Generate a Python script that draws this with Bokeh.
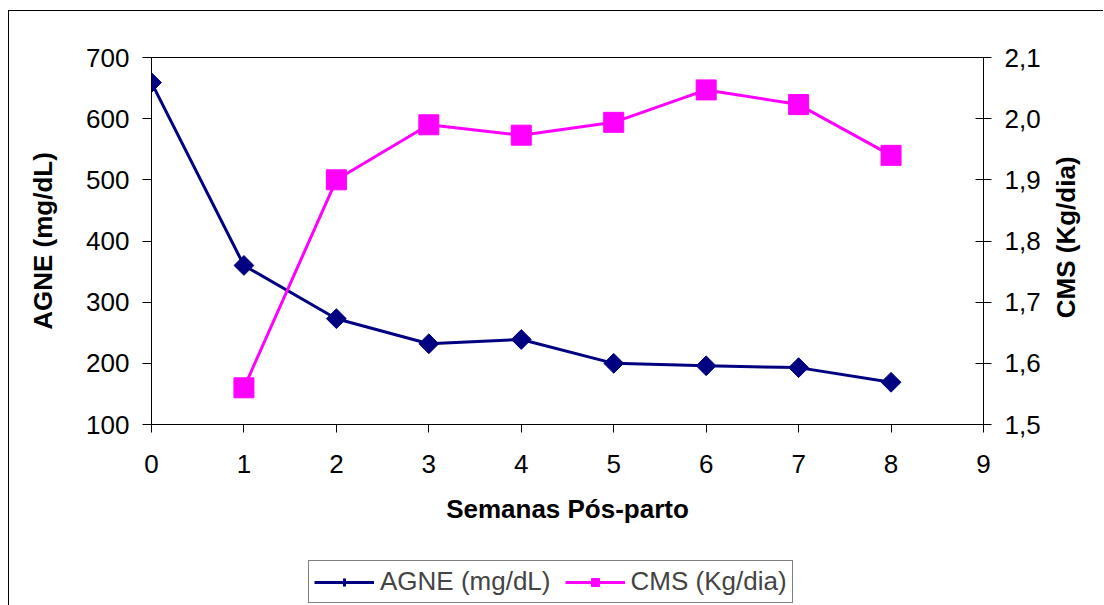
import numpy as np
from bokeh.plotting import figure
from bokeh.layouts import column, row
from bokeh.models import (Range1d, LinearAxis, FixedTicker, CustomJSTickFormatter,
                          Legend, LegendItem, ColumnDataSource, Label)
from bokeh.embed import file_html
from bokeh.resources import INLINE

# ---- data ----
weeks_agne = [0, 1, 2, 3, 4, 5, 6, 7, 8]
agne = [659, 360, 273, 232, 239, 200, 196, 193, 169]
weeks_cms = [1, 2, 3, 4, 5, 6, 7, 8]
cms = [1.56, 1.90, 1.99, 1.973, 1.994, 2.047, 2.023, 1.94]
x_ticks = [0, 1, 2, 3, 4, 5, 6, 7, 8, 9]
left_ticks = [100, 200, 300, 400, 500, 600, 700]
right_ticks = [1.5, 1.6, 1.7, 1.8, 1.9, 2.0, 2.1]

FONT = "Liberation Sans"
FS = "26px"
NAVY = "#000080"
MAGENTA = "#FF00FF"

W1, WL, H1, H2 = 1039, 55, 534, 60
W = W1 + WL
p = figure(width=W1, height=H1, output_backend="svg", toolbar_location=None,
           x_range=Range1d(0, 9), y_range=Range1d(100, 700),
           min_border_left=142, min_border_right=65,
           min_border_top=46, min_border_bottom=121)
p.xgrid.visible = False
p.ygrid.visible = False
p.outline_line_color = "black"
p.outline_line_width = 1
p.background_fill_color = "white"
p.border_fill_color = "white"

p.extra_y_ranges = {"cms": Range1d(1.5, 2.1)}
raxis = LinearAxis(y_range_name="cms")
p.add_layout(raxis, "right")

for ax in [p.xaxis[0], p.yaxis[0], raxis]:
    ax.axis_line_color = "black"
    ax.major_tick_line_color = "black"
    ax.minor_tick_line_color = None
    ax.major_label_text_font = FONT
    ax.major_label_text_font_size = FS
    ax.major_label_text_color = "black"
    ax.axis_label_text_font = FONT
    ax.axis_label_text_font_size = FS
    ax.axis_label_text_font_style = "bold"
    ax.axis_label_text_color = "black"

xa = p.xaxis[0]
xa.ticker = FixedTicker(ticks=x_ticks)
xa.major_tick_in = 0
xa.major_tick_out = 8
xa.major_label_standoff = 22
xa.axis_label = "Semanas Pós-parto"
xa.axis_label_standoff = 18

ya = p.yaxis[0]
ya.ticker = FixedTicker(ticks=left_ticks)
ya.major_tick_in = 0
ya.major_tick_out = 9
ya.major_label_standoff = 13
ya.axis_label = "AGNE (mg/dL)"
ya.axis_label_standoff = 25

raxis.ticker = FixedTicker(ticks=right_ticks)
raxis.major_tick_in = 8
raxis.major_tick_out = 8
raxis.major_label_standoff = 13
raxis.formatter = CustomJSTickFormatter(code="return tick.toFixed(1).replace('.', ',');")

src_a = ColumnDataSource(dict(x=weeks_agne, y=agne))
src_c = ColumnDataSource(dict(x=weeks_cms, y=cms))

la = p.line("x", "y", source=src_a, line_color=NAVY, line_width=3)
ma = p.scatter("x", "y", source=src_a, marker="square", angle=np.pi / 4, size=14,
               fill_color=NAVY, line_color=NAVY)
lc = p.line("x", "y", source=src_c, y_range_name="cms", line_color=MAGENTA, line_width=3)
mc = p.scatter("x", "y", source=src_c, y_range_name="cms", marker="square", size=20,
               fill_color=MAGENTA, line_color=MAGENTA)

# right axis title strip (reads bottom-to-top, like the reference)
lab = figure(width=WL, height=H1, output_backend="svg", toolbar_location=None,
             x_range=Range1d(0, 1), y_range=Range1d(0, 1),
             min_border_left=0, min_border_right=0, min_border_top=0, min_border_bottom=0)
lab.axis.visible = False
lab.grid.visible = False
lab.outline_line_color = None
lab.background_fill_color = "white"
lab.border_fill_color = "white"
lab.add_layout(Label(x=0.32, y=0.51, x_units="data", y_units="data",
                     text="CMS (Kg/dia)", angle=np.pi / 2,
                     text_align="center", text_baseline="middle",
                     text_font=FONT, text_font_size=FS, text_font_style="bold",
                     text_color="black"))

# legend strip (separate figure, no axes); its glyphs use the same data,
# which falls outside this strip's 0..1 ranges, so only the legend shows them
pl = figure(width=W, height=H2, output_backend="svg", toolbar_location=None,
            x_range=Range1d(0, 1), y_range=Range1d(0, 1),
            min_border_left=0, min_border_right=0, min_border_top=0, min_border_bottom=0)
pl.axis.visible = False
pl.grid.visible = False
pl.outline_line_color = None
pl.background_fill_color = "white"
pl.border_fill_color = "white"

leg_a_line = pl.line("x", "y", source=src_a, line_color=NAVY, line_width=3)
leg_a_mark = pl.scatter("x", "y", source=src_a, marker="cross", size=18,
                        line_color=NAVY, line_width=3)
leg_c_line = pl.line("x", "y", source=src_c, line_color=MAGENTA, line_width=3)
leg_c_mark = pl.scatter("x", "y", source=src_c, marker="square", size=18,
                        fill_color=MAGENTA, line_color=MAGENTA)

legend = Legend(items=[LegendItem(label="AGNE (mg/dL)", renderers=[leg_a_line, leg_a_mark]),
                       LegendItem(label="CMS (Kg/dia)", renderers=[leg_c_line, leg_c_mark])],
                orientation="horizontal", location=(299, 2),
                label_text_font=FONT, label_text_font_size=FS,
                glyph_width=60, glyph_height=20, label_standoff=6, spacing=14,
                padding=5, margin=0, border_line_color="black", border_line_width=1,
                background_fill_color="white", background_fill_alpha=1.0)
pl.add_layout(legend, "center")

layout = column(row(p, lab, spacing=0), pl, spacing=0)
layout.styles = {"border-left": "1px solid black", "border-top": "1px solid black",
                 "margin-top": "10px", "margin-left": "8px"}

open("out.html", "w").write(file_html(layout, INLINE))
